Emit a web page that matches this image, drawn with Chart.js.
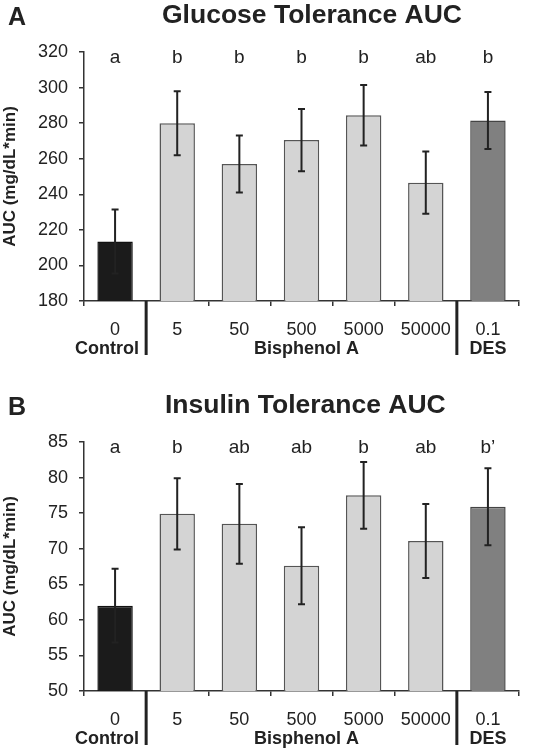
<!DOCTYPE html>
<html>
<head>
<meta charset="utf-8">
<title>Glucose and Insulin Tolerance AUC</title>
<script src="https://cdn.jsdelivr.net/npm/chart.js@4.4.1/dist/chart.umd.min.js"></script>
<style>
  body { margin: 0; background: #fff; }
  .panel { position: relative; width: 547px; height: 375px; }
</style>
</head>
<body>
<div class="panel"><canvas id="glucoseChart" width="547" height="375"></canvas></div>
<div class="panel"><canvas id="insulinChart" width="547" height="375"></canvas></div>
<script>
// dose groups (x axis)
const doseLabels = ['0', '5', '50', '500', '5000', '50000', '0.1'];
const groupNames = ['Control', 'Bisphenol A', 'DES'];
const groupFirst = [0, 1, 6];
const groupLast = [0, 5, 6];

// panel A: glucose tolerance AUC (mg/dL*min)
const glucoseMeans = [213.5, 280, 257, 270.5, 284.5, 246.5, 281.5];
const glucoseErr = [18, 18, 16, 17.5, 17, 17.5, 16];
const glucoseLetters = ['a', 'b', 'b', 'b', 'b', 'ab', 'b'];
const glucoseTicks = { min: 180, max: 320, step: 20 };

// panel B: insulin tolerance AUC
const insulinMeans = [62, 74.9, 73.5, 67.6, 77.5, 71.1, 75.9];
const insulinErr = [5.2, 5, 5.6, 5.4, 4.7, 5.2, 5.4];
const insulinLetters = ['a', 'b', 'ab', 'ab', 'b', 'ab', 'b\u2019'];
const insulinTicks = { min: 50, max: 85, step: 5 };

const FONT = "'Liberation Sans', Arial, sans-serif";
const INK = '#222';
const barFill = ['#1b1b1b', '#d4d4d4', '#d4d4d4', '#d4d4d4', '#d4d4d4', '#d4d4d4', '#808080'];
const barEdge = ['#111111', '#555555', '#555555', '#555555', '#555555', '#555555', '#444444'];

// error bars, significance letters, group separators and titles
const panelDecor = {
  id: 'panelDecor',
  afterDatasetsDraw(chart, args, opts) {
    const { ctx, chartArea } = chart;
    const xs = chart.scales.x, ys = chart.scales.y;
    const meta = chart.getDatasetMeta(0);
    const vals = chart.data.datasets[0].data;

    ctx.save();
    ctx.strokeStyle = INK;
    ctx.lineWidth = 2;
    opts.errors.forEach((e, i) => {
      const bx = meta.data[i].x;
      const top = ys.getPixelForValue(vals[i] + e);
      const bot = ys.getPixelForValue(vals[i] - e);
      ctx.beginPath();
      ctx.moveTo(bx, top); ctx.lineTo(bx, bot);
      ctx.moveTo(bx - 3.5, top); ctx.lineTo(bx + 3.5, top);
      ctx.moveTo(bx - 3.5, bot); ctx.lineTo(bx + 3.5, bot);
      ctx.stroke();
    });

    // letters above bars
    ctx.fillStyle = INK;
    ctx.font = '19px ' + FONT;
    ctx.textAlign = 'center';
    ctx.textBaseline = 'alphabetic';
    opts.letters.forEach((t, i) => {
      ctx.fillText(t, xs.getPixelForValue(i), chartArea.top + 11);
    });

    // thick separators between groups
    ctx.lineWidth = 3;
    for (let g = 1; g < groupFirst.length; g++) {
      const sx = (xs.getPixelForValue(groupFirst[g] - 1) + xs.getPixelForValue(groupFirst[g])) / 2;
      ctx.beginPath();
      ctx.moveTo(sx, chartArea.bottom);
      ctx.lineTo(sx, chartArea.bottom + 54);
      ctx.stroke();
    }

    // group names under dose labels
    ctx.font = 'bold 18px ' + FONT;
    groupNames.forEach((name, g) => {
      const cx = (xs.getPixelForValue(groupFirst[g]) + xs.getPixelForValue(groupLast[g])) / 2 + opts.groupNudge[g];
      ctx.fillText(name, cx, chartArea.bottom + 53);
    });

    // chart title and panel letter
    ctx.textAlign = 'left';
    ctx.font = 'bold 26.5px ' + FONT;
    ctx.fillText(opts.title, opts.titleX, opts.titleY);
    ctx.font = 'bold 25px ' + FONT;
    ctx.fillText(opts.panel, 8, opts.titleY + 2);
    ctx.restore();
  }
};

function makePanel(id, means, errs, letters, range, cfg) {
  return new Chart(document.getElementById(id), {
    type: 'bar',
    data: {
      labels: doseLabels,
      datasets: [{
        data: means,
        backgroundColor: barFill,
        borderColor: barEdge,
        borderWidth: 1.5,
        barPercentage: 0.57,
        categoryPercentage: 1,
      }],
    },
    options: {
      responsive: false,
      animation: false,
      devicePixelRatio: 1,
      layout: { padding: { top: cfg.padTop, right: 28, left: 0, bottom: 0 } },
      scales: {
        x: {
          offset: true,
          grid: { drawOnChartArea: false, offset: true, tickLength: 5, color: '#333', lineWidth: 1.5 },
          border: { color: '#333', width: 1.5 },
          ticks: { font: { family: FONT, size: 18 }, color: INK, padding: 13, maxRotation: 0, autoSkip: false },
          afterFit: (s) => { s.height = cfg.xHeight; },
        },
        y: {
          min: range.min,
          max: range.max,
          grid: { drawOnChartArea: false, tickLength: 5, color: '#333', lineWidth: 1.5 },
          border: { color: '#333', width: 1.5 },
          ticks: { stepSize: range.step, font: { family: FONT, size: 18 }, color: INK, padding: 11 },
          title: {
            display: true,
            text: 'AUC (mg/dL*min)',
            font: { family: FONT, size: 17, weight: 'bold' },
            color: INK,
            padding: { top: 0, bottom: 0 },
          },
          afterFit: (s) => { s.width = 84; },
        },
      },
      plugins: {
        legend: { display: false },
        tooltip: { enabled: false },
        panelDecor: {
          errors: errs,
          letters: letters,
          title: cfg.title,
          panel: cfg.panel,
          titleX: cfg.titleX,
          titleY: cfg.titleY,
          groupNudge: [-8, 5, 0],
        },
      },
    },
    plugins: [panelDecor],
  });
}

makePanel('glucoseChart', glucoseMeans, glucoseErr, glucoseLetters, glucoseTicks,
  { padTop: 52, xHeight: 74, title: 'Glucose Tolerance AUC', panel: 'A', titleX: 162, titleY: 23 });
makePanel('insulinChart', insulinMeans, insulinErr, insulinLetters, insulinTicks,
  { padTop: 67, xHeight: 59, title: 'Insulin Tolerance AUC', panel: 'B', titleX: 165, titleY: 38 });
</script>
</body>
</html>
